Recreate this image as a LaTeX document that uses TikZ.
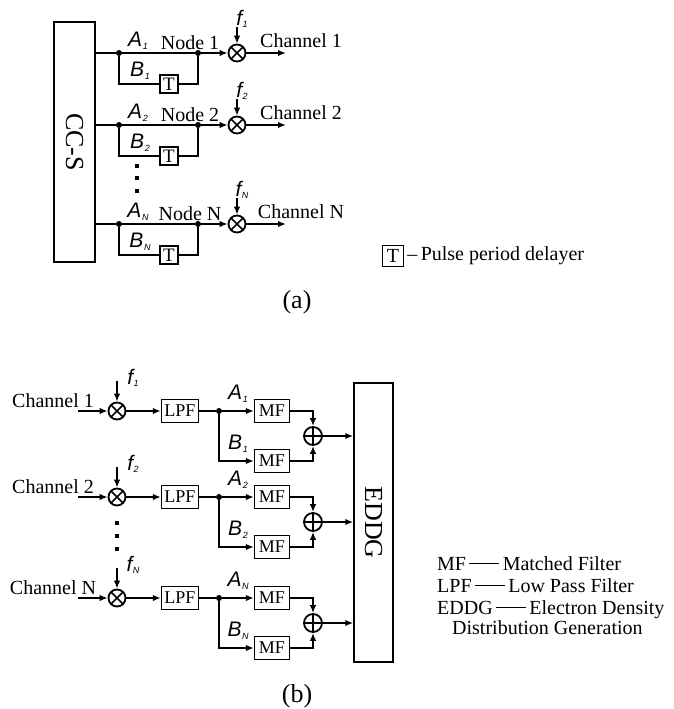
\documentclass[tikz,border=0pt]{standalone}
\usepackage{fontspec}
\setmainfont{Liberation Serif}
\newfontfamily\labfont{Liberation Sans}
\usetikzlibrary{arrows.meta}
\newcommand{\sublab}[2]{{\labfont\itshape\fontsize{21}{21}\selectfont #1\kern0.5pt\raisebox{-2.5pt}{\fontsize{9}{9}\selectfont #2}}}

\begin{document}
\begin{tikzpicture}[
    x=1pt, y=-1pt,
    wire/.style={line width=1.8pt},
    arr/.style={wire, -{Latex[length=8pt,width=6.5pt]}},
    box/.style={draw, line width=1.4pt, inner sep=0pt, font=\fontsize{18}{18}\selectfont},
    dly/.style={draw, line width=1.1pt, minimum size=18pt, inner sep=0pt, font=\fontsize{19}{19}\selectfont},
    mix/.style={draw, circle, line width=1.8pt, minimum size=17pt, inner sep=0pt,
        path picture={\draw[line width=1.5pt] (path picture bounding box.north west) -- (path picture bounding box.south east)
            (path picture bounding box.north east) -- (path picture bounding box.south west);}},
    add/.style={draw, circle, line width=1.8pt, minimum size=18pt, inner sep=0pt,
        path picture={\draw[line width=1.5pt] (path picture bounding box.north) -- (path picture bounding box.south)
            (path picture bounding box.west) -- (path picture bounding box.east);}},
    dot/.style={circle, fill, minimum size=6pt, inner sep=0pt},
    txt/.style={inner sep=0pt, font=\fontsize{20}{22}\selectfont},
    lab/.style={inner sep=0pt},
    big/.style={draw, line width=1.5pt, inner sep=0pt, font=\fontsize{26}{26}\selectfont}
]
\useasboundingbox (0,0) rectangle (674,709);

% (a)
\node[big, minimum width=41pt, minimum height=240pt] (ccs) at (74.5,142) {\rotatebox{-90}{CC-S}};
\foreach \r/\y/\n in {1/53/1, 2/125/2, 3/224/N}{
    \coordinate (src\r) at (95,\y);
    \node[dot] (ja\r) at (119,\y) {};
    \node[dot] (jb\r) at (198,\y) {};
    \node[dly] (dl\r) at (169,\y+31) {T};
    \node[mix] (mx\r) at (237,\y) {};
    \coordinate (ch\r) at (286,\y);
    \coordinate (fa\r) at (237,\y-26);
    \node[lab] (la\r) at (138,\y-12) {\sublab{A}{\n}};
    \node[lab] (lb\r) at (140,\y+18) {\sublab{B}{\n}};
    \node[lab] (lf\r) at (242,\y-34) {\sublab{f}{\n}};
    \node[txt] (nd\r) at (190,\y-10) {Node \n};
    \node[txt] (cn\r) at (301,\y-12) {Channel \n};
    \draw[wire] (src\r) -- (ja\r) -- (jb\r);
    \draw[arr] (jb\r) -- (mx\r);
    \draw[arr] (mx\r) -- (ch\r);
    \draw[wire] (ja\r) |- (dl\r) -| (jb\r);
    \draw[arr] (fa\r) -- (mx\r);
}
\foreach \d in {166,178,191}
    \fill (135,\d-2) rectangle (139,\d+2);

\node[dly, minimum size=21pt, line width=0.8pt, font=\fontsize{20}{20}\selectfont] (legT) at (393,256) {T};
\node[txt, anchor=west] (legTtxt) at (legT.east) {\,--\,Pulse period delayer};
\node[txt, font=\fontsize{26}{26}\selectfont] (capa) at (297,302) {(a)};

% (b)
\node[big, minimum width=39pt, minimum height=279pt] (eddg) at (373.5,522.5) {\rotatebox{-90}{EDDG}};
\foreach \r/\y/\n in {1/411/1, 2/497/2, 3/598/N}{
    \coordinate (in\r) at (78,\y);
    \node[txt] (cb\r) at (53,\y-10) {Channel \n};
    \node[mix] (mb\r) at (117,\y) {};
    \coordinate (fb\r) at (117,\y-30);
    \node[lab] (lfb\r) at (133,\y-33) {\sublab{f}{\n}};
    \node[box, minimum width=37pt, minimum height=23pt] (lpf\r) at (180,\y) {LPF};
    \node[dot] (jc\r) at (219,\y) {};
    \node[box, minimum width=35pt, minimum height=23pt] (mfa\r) at (272,\y) {MF};
    \node[box, minimum width=35pt, minimum height=23pt] (mfb\r) at (272,\y+50) {MF};
    \node[add] (sm\r) at (313,\y+25) {};
    \node[lab] (lab\r) at (238,\y-17) {\sublab{A}{\n}};
    \node[lab] (lbb\r) at (238,\y+33) {\sublab{B}{\n}};
    \draw[arr] (in\r) -- (mb\r);
    \draw[arr] (fb\r) -- (mb\r);
    \draw[arr] (mb\r) -- (lpf\r);
    \draw[wire] (lpf\r) -- (jc\r);
    \draw[arr] (jc\r) -- (mfa\r);
    \draw[arr] (jc\r) |- (mfb\r);
    \draw[arr] (mfa\r) -| (sm\r);
    \draw[arr] (mfb\r) -| (sm\r);
    \draw[arr] (sm\r) -- (sm\r -| eddg.west);
}
\foreach \d in {523,536,549}
    \fill (115,\d-2) rectangle (119,\d+2);

\node[txt, anchor=base west] (legMF) at (437,570) {MF\,\rule[0.3em]{1.5em}{1.5pt}\,Matched Filter};
\node[txt, anchor=base west] (legLPF) at (437,592) {LPF\,\rule[0.3em]{1.5em}{1.5pt}\,Low Pass Filter};
\node[txt, anchor=base west] (legED) at (437,614) {EDDG\,\rule[0.3em]{1.5em}{1.5pt}\,Electron Density};
\node[txt, anchor=base west] (legDG) at (452,634) {Distribution Generation};
\node[txt, font=\fontsize{26}{26}\selectfont] (capb) at (297,696) {(b)};
\end{tikzpicture}
\end{document}
